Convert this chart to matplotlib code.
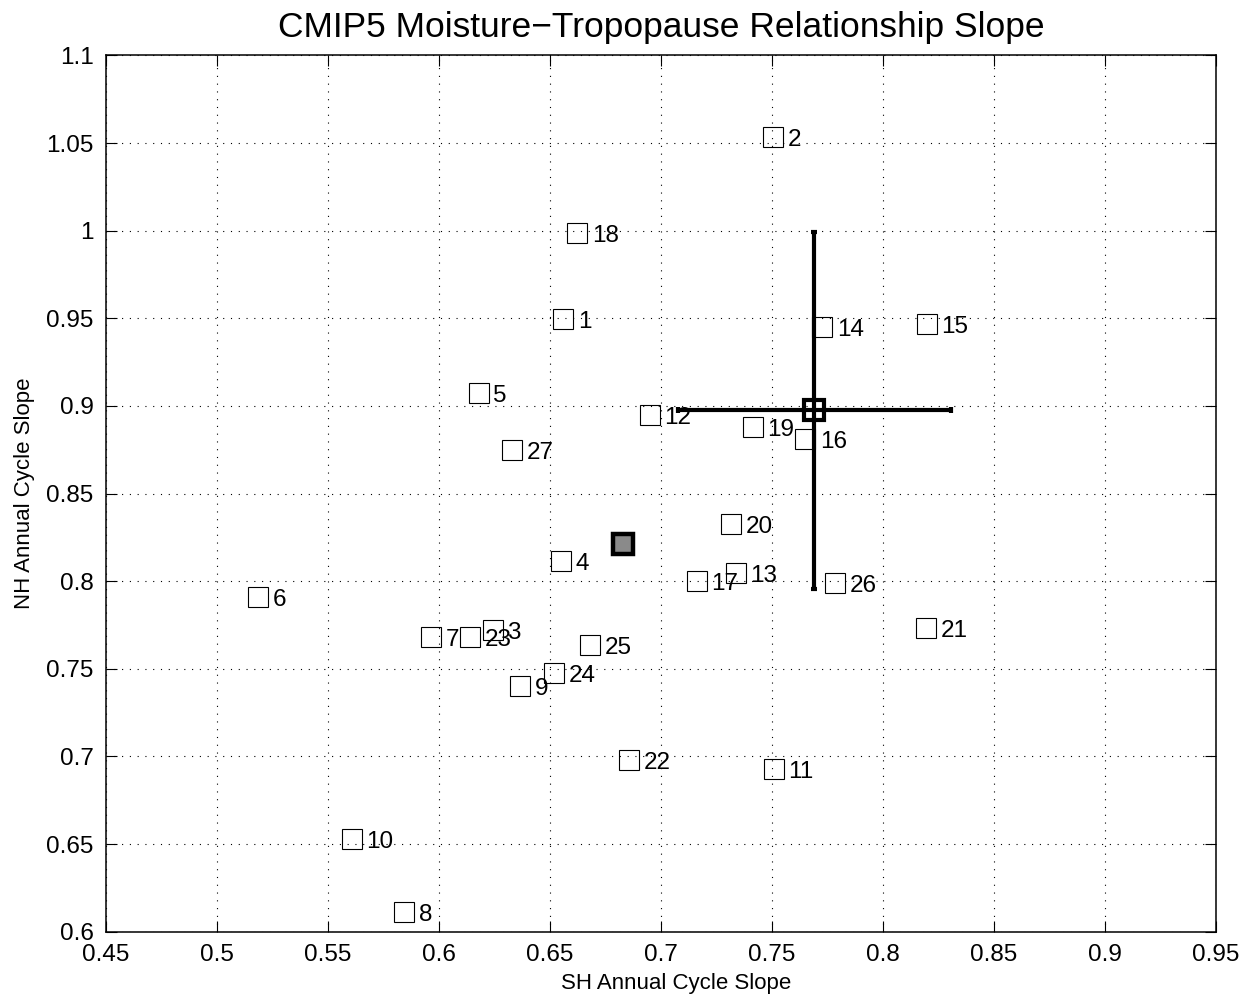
import matplotlib.pyplot as plt
import numpy as np

# slopes of the moisture-tropopause relationship for each CMIP5 model
model_ids = list(range(1, 28))
sh_slope = [0.6559, 0.7505, 0.6243, 0.6550, 0.6178, 0.5185, 0.5964, 0.5842, 0.6365,
            0.5608, 0.7509, 0.6950, 0.7338, 0.7727, 0.8198, 0.7649, 0.7162, 0.6622,
            0.7414, 0.7315, 0.8194, 0.6856, 0.6140, 0.6518, 0.6680, 0.7784, 0.6329]
nh_slope = [0.9496, 1.0535, 0.7721, 0.8115, 0.9074, 0.7909, 0.7681, 0.6111, 0.7401,
            0.6528, 0.6928, 0.8948, 0.8046, 0.9450, 0.9467, 0.8811, 0.8001, 0.9987,
            0.8880, 0.8326, 0.7732, 0.6979, 0.7681, 0.7475, 0.7635, 0.7989, 0.8748]

# observed estimate with its uncertainty
obs_sh, obs_nh = 0.769, 0.8974
obs_sh_err, obs_nh_err = 0.0615, 0.102

plt.rcParams['font.family'] = ['Liberation Sans', 'DejaVu Sans']

fig = plt.figure(figsize=(12.55, 10.01), dpi=100)
ax = fig.add_axes([0.0845, 0.0693, 0.8844, 0.8753])

ax.plot(sh_slope, nh_slope, 's', ms=14.4, mfc='none', mec='black', mew=0.8,
        linestyle='none', zorder=3)
for i, x, y in zip(model_ids, sh_slope, nh_slope):
    ax.annotate(str(i), (x, y), xytext=(10.5, -6.3), textcoords='offset points',
                fontsize=17.5, va='baseline', ha='left', zorder=4)

# multi-model mean
ax.plot(np.mean(sh_slope), np.mean(nh_slope), 's', ms=14, mfc='#8a8a8a',
        mec='black', mew=3.2, zorder=5)

ax.errorbar(obs_sh, obs_nh, xerr=obs_sh_err, yerr=obs_nh_err, fmt='s', ms=13.7,
            mfc='none', mec='black', mew=3.0, ecolor='black', elinewidth=3,
            capsize=2, capthick=3, color='black', zorder=6)

ax.set_xlim(0.45, 0.95)
ax.set_ylim(0.6, 1.1)
ax.set_xticks(np.arange(0.45, 0.951, 0.05))
ax.set_yticks(np.arange(0.6, 1.101, 0.05))
ax.set_xticklabels(['0.45', '0.5', '0.55', '0.6', '0.65', '0.7', '0.75', '0.8', '0.85', '0.9', '0.95'])
ax.set_yticklabels(['0.6', '0.65', '0.7', '0.75', '0.8', '0.85', '0.9', '0.95', '1', '1.05', '1.1'])
ax.tick_params(direction='in', length=8, width=0.8, labelsize=17.5, pad=9,
               top=True, right=True)
ax.grid(True, color='black', linestyle=(0, (1, 6)), linewidth=0.8)
for s in ax.spines.values():
    s.set_linewidth(1.1)

ax.set_xlabel('SH Annual Cycle Slope', fontsize=16)
ax.xaxis.set_label_coords(0.5135, -0.047)
ax.set_ylabel('NH Annual Cycle Slope', fontsize=16)
ax.yaxis.set_label_coords(-0.064, 0.5)
ax.set_title('CMIP5 Moisture\u2212Tropopause Relationship Slope', fontsize=25.5, pad=13)

fig.savefig('out.png', dpi=100)
